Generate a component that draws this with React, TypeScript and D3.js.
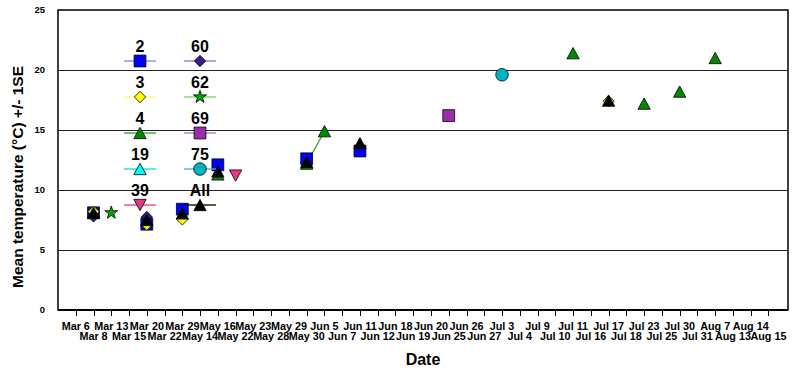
import React, { useEffect, useRef } from 'react';
import * as d3 from 'd3';

// dates on the x axis (category axis, one tick per date)
const dates = [
  'Mar 6', 'Mar 8', 'Mar 13', 'Mar 15', 'Mar 20', 'Mar 22', 'Mar 29', 'May 14',
  'May 16', 'May 22', 'May 23', 'May 28', 'May 29', 'May 30', 'Jun 5', 'Jun 7',
  'Jun 11', 'Jun 12', 'Jun 18', 'Jun 19', 'Jun 20', 'Jun 25', 'Jun 26', 'Jun 27',
  'Jul 3', 'Jul 4', 'Jul 9', 'Jul 10', 'Jul 11', 'Jul 16', 'Jul 17', 'Jul 18',
  'Jul 23', 'Jul 25', 'Jul 30', 'Jul 31', 'Aug 7', 'Aug 13', 'Aug 14', 'Aug 15',
];

const yTicks = [0, 5, 10, 15, 20, 25];

// mean temperature per site, [date, value]
const site2: [string, number][] = [['Mar 8', 8.1], ['Mar 20', 7.15], ['Mar 29', 8.4], ['May 16', 12.1], ['May 30', 12.6], ['Jun 11', 13.25]];
const site3: [string, number][] = [['Mar 8', 8.2], ['Mar 20', 7.1], ['Mar 29', 7.55], ['Jul 17', 17.4]];
const site4: [string, number][] = [['May 16', 11.3], ['May 30', 12.2], ['Jun 5', 14.9], ['Jul 11', 21.4], ['Jul 23', 17.2], ['Jul 30', 18.2], ['Aug 7', 21.0]];
const site19: [string, number][] = [];
const site39: [string, number][] = [['May 22', 11.2]];
const site60: [string, number][] = [['Mar 8', 7.8], ['Mar 20', 7.75]];
const site62: [string, number][] = [['Mar 13', 8.1]];
const site69: [string, number][] = [['Jun 25', 16.2]];
const site75: [string, number][] = [['Jul 3', 19.6]];
const siteAll: [string, number][] = [['Mar 8', 8.1], ['Mar 20', 7.5], ['Mar 29', 8.05], ['May 16', 11.55], ['May 30', 12.35], ['Jun 11', 13.9], ['Jul 17', 17.45]];

// custom marker shapes, size = half width squared
const diamond = {
  draw(c: any, s: number) {
    const r = Math.sqrt(s);
    c.moveTo(0, -r); c.lineTo(r, 0); c.lineTo(0, r); c.lineTo(-r, 0); c.closePath();
  },
};
const triUp = {
  draw(c: any, s: number) {
    const r = Math.sqrt(s);
    c.moveTo(0, -r * 0.92); c.lineTo(r, r * 0.92); c.lineTo(-r, r * 0.92); c.closePath();
  },
};
const triDown = {
  draw(c: any, s: number) {
    const r = Math.sqrt(s);
    c.moveTo(0, r * 0.92); c.lineTo(r, -r * 0.92); c.lineTo(-r, -r * 0.92); c.closePath();
  },
};

const series = [
  { name: '60', data: site60, type: diamond, size: 32, fill: '#3d1a8e', line: '#8f78c4' },
  { name: '62', data: site62, type: d3.symbolStar, size: 52, fill: '#00a800', line: '#66dd66' },
  { name: '69', data: site69, type: d3.symbolSquare, size: 140, fill: '#9b2ea8', line: '#b070c8' },
  { name: '75', data: site75, type: d3.symbolCircle, size: 124, fill: '#00b3c4', line: '#40b4c8' },
  { name: '2', data: site2, type: d3.symbolSquare, size: 140, fill: '#0000ff', line: '#7f7fff' },
  { name: '3', data: site3, type: diamond, size: 32, fill: '#ffff00', line: '#ffff66' },
  { name: '4', data: site4, type: triUp, size: 38, fill: '#008a00', line: '#2ea02e' },
  { name: '19', data: site19, type: triUp, size: 38, fill: '#00ffff', line: '#00dede' },
  { name: '39', data: site39, type: triDown, size: 38, fill: '#e33b82', line: '#e33b82' },
  { name: 'All', data: siteAll, type: triUp, size: 38, fill: '#000000', line: '#000000' },
];

const legendCols = [['2', '3', '4', '19', '39'], ['60', '62', '69', '75', 'All']];

const FONT = "'Liberation Sans', Arial, sans-serif";

export default function App() {
  const ref = useRef<SVGSVGElement>(null);

  useEffect(() => {
    const width = 793;
    const height = 368;
    const margin = { top: 10, right: 5, bottom: 58, left: 58 };
    const svg = d3.select(ref.current);
    svg.selectAll('*').remove();

    const x = d3.scaleLinear()
      .domain([-1, 40.1])
      .range([margin.left, width - margin.right]);
    const y = d3.scaleLinear()
      .domain([0, 25])
      .range([height - margin.bottom, margin.top]);

    const x0 = margin.left, x1 = width - margin.right;
    const y0 = height - margin.bottom;

    // grid lines
    svg.append('g')
      .selectAll('line')
      .data(yTicks.filter(t => t > 0 && t < 25))
      .join('line')
      .attr('x1', x0).attr('x2', x1)
      .attr('y1', d => Math.round(y(d)) + 0.5).attr('y2', d => Math.round(y(d)) + 0.5)
      .attr('stroke', '#222').attr('stroke-width', 1);

    // frame
    svg.append('rect')
      .attr('x', x0).attr('y', margin.top)
      .attr('width', x1 - x0).attr('height', y0 - margin.top)
      .attr('fill', 'none').attr('stroke', '#000').attr('stroke-width', 1.5);
    svg.append('line')
      .attr('x1', x0).attr('x2', x1).attr('y1', y0).attr('y2', y0)
      .attr('stroke', '#000').attr('stroke-width', 2);

    // y tick labels
    svg.append('g')
      .selectAll('text')
      .data(yTicks)
      .join('text')
      .attr('x', 45).attr('y', d => y(d))
      .attr('dy', '0.35em')
      .attr('text-anchor', 'end')
      .attr('font-family', FONT).attr('font-weight', 'bold').attr('font-size', 9.5)
      .text(d => d);

    // x ticks and labels
    svg.append('g')
      .selectAll('line')
      .data(dates)
      .join('line')
      .attr('x1', (d, i) => Math.round(x(i)) + 0.5).attr('x2', (d, i) => Math.round(x(i)) + 0.5)
      .attr('y1', y0).attr('y2', y0 + 6)
      .attr('stroke', '#000').attr('stroke-width', 1);
    svg.append('g')
      .selectAll('text')
      .data(dates)
      .join('text')
      .attr('x', (d, i) => x(i))
      .attr('y', (d, i) => (i % 2 === 0 ? 329.5 : 339.5))
      .attr('text-anchor', 'middle')
      .attr('font-family', FONT).attr('font-weight', 'bold').attr('font-size', 10.8)
      .text(d => d);

    // axis titles
    svg.append('text')
      .attr('x', 423).attr('y', 365)
      .attr('text-anchor', 'middle')
      .attr('font-family', FONT).attr('font-weight', 'bold').attr('font-size', 16)
      .text('Date');
    svg.append('text')
      .attr('transform', 'translate(23,177) rotate(-90)')
      .attr('text-anchor', 'middle')
      .attr('font-family', FONT).attr('font-weight', 'bold').attr('font-size', 15.5)
      .text('Mean temperature (°C) +/- 1SE');

    // series: lines join only neighbouring dates
    series.forEach(s => {
      const byDate = new Map(s.data);
      const full = dates.map((d, i) => ({ i, v: byDate.has(d) ? byDate.get(d)! : null }));
      const line = d3.line<{ i: number; v: number | null }>()
        .defined(d => d.v !== null)
        .x(d => x(d.i))
        .y(d => y(d.v as number));
      svg.append('path')
        .attr('d', line(full))
        .attr('fill', 'none')
        .attr('stroke', s.line)
        .attr('stroke-width', 1.2);
    });
    series.forEach(s => {
      const sym = d3.symbol().type(s.type as any).size(s.size);
      svg.append('g')
        .selectAll('path')
        .data(s.data)
        .join('path')
        .attr('transform', d => `translate(${x(dates.indexOf(d[0]))},${y(d[1])})`)
        .attr('d', sym() as string)
        .attr('fill', s.fill)
        .attr('stroke', '#000')
        .attr('stroke-width', 0.8);
    });

    // legend
    const colX = [140, 200];
    legendCols.forEach((col, ci) => {
      col.forEach((name, ri) => {
        const s = series.find(e => e.name === name)!;
        const cx = colX[ci];
        const cy = 61 + ri * 36;
        const g = svg.append('g');
        g.append('line')
          .attr('x1', cx - 16).attr('x2', cx + 16)
          .attr('y1', cy).attr('y2', cy)
          .attr('stroke', s.line).attr('stroke-width', 1.3);
        g.append('path')
          .attr('transform', `translate(${cx},${cy})`)
          .attr('d', d3.symbol().type(s.type as any).size(s.size)() as string)
          .attr('fill', s.fill).attr('stroke', '#000').attr('stroke-width', 0.8);
        g.append('text')
          .attr('x', cx).attr('y', cy - 9)
          .attr('text-anchor', 'middle')
          .attr('font-family', FONT).attr('font-weight', 'bold').attr('font-size', 16)
          .text(name);
      });
    });
  }, []);

  return (
    <div style={{ position: 'absolute', left: 0, top: 0, background: '#fff' }}>
      <svg ref={ref} width={793} height={368} style={{ display: 'block' }} />
    </div>
  );
}
